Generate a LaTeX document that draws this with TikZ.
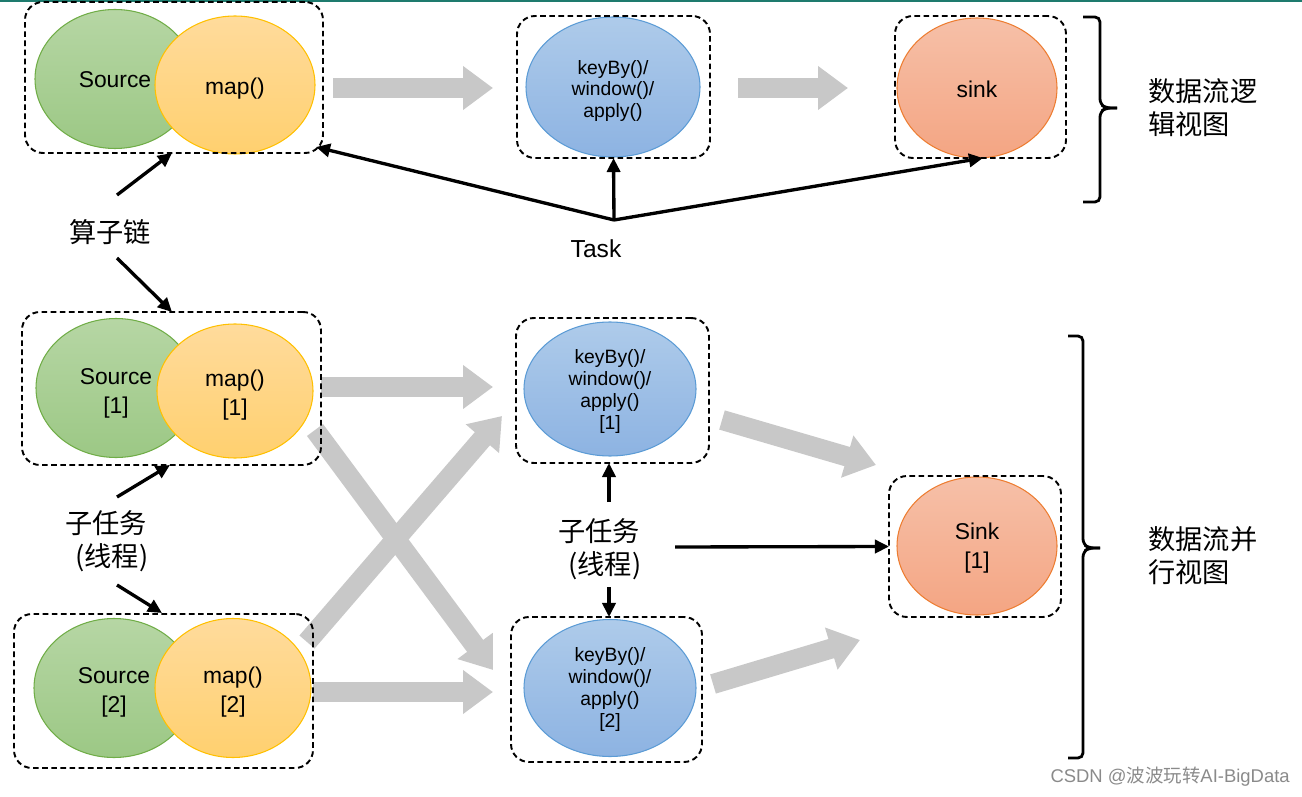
\documentclass[tikz,border=0pt]{standalone}
\usepackage{fontspec}
\setmainfont{Liberation Sans}
\newfontfamily\cjk{Noto Sans CJK SC}
\usetikzlibrary{shapes.geometric,arrows.meta,calc}
\definecolor{gA}{HTML}{B6D6A4}
\definecolor{gB}{HTML}{9CC885}
\definecolor{gE}{HTML}{70AD47}
\definecolor{oA}{HTML}{FFDB9C}
\definecolor{oB}{HTML}{FFD06F}
\definecolor{oE}{HTML}{FFC000}
\definecolor{bA}{HTML}{AECBEA}
\definecolor{bB}{HTML}{8DB3E2}
\definecolor{bE}{HTML}{5B9BD5}
\definecolor{sA}{HTML}{F6C0A8}
\definecolor{sB}{HTML}{F4A583}
\definecolor{sE}{HTML}{ED7D31}
\definecolor{garr}{HTML}{C8C8C8}
\definecolor{topline}{HTML}{1E7B6E}
\definecolor{wmark}{HTML}{8A8A8A}
\tikzset{
  wh/.style 2 args={minimum width=#1*0.02cm, minimum height=#2*0.02cm},
  dbox/.style={draw, dash pattern=on 3.2pt off 2pt, line width=1.1pt, rounded corners=0.36cm, inner sep=0pt, outer sep=0pt},
  ell/.style={ellipse, draw, line width=0.6pt, inner sep=0pt},
  src/.style={ell, draw=gE, top color=gA, bottom color=gB},
  mapn/.style={ell, draw=oE, top color=oA, bottom color=oB},
  kbw/.style={ell, draw=bE, top color=bA, bottom color=bB},
  snk/.style={ell, draw=sE, top color=sA, bottom color=sB},
  tbig/.style={align=center, inner sep=0pt, font=\fontsize{13}{16.4}\selectfont},
  tsmall/.style={align=center, inner sep=0pt, font=\fontsize{11}{12.5}\selectfont},
  blk/.style={line width=1.9pt, -{Triangle[length=8pt,width=7.5pt]}},
  garrow/.style={draw=garr, line width=0.4cm, -{Triangle[length=0.6cm,width=0.84cm]}},
  brc/.style={line width=1.6pt, rounded corners=0.1cm},
  cjklab/.style={font=\cjk\fontsize{15.5}{18.7}\selectfont, align=left, inner sep=0pt},
}
\begin{document}
\begin{tikzpicture}[x=0.02cm,y=-0.02cm]
\useasboundingbox (0,0) rectangle (1302,797);
\fill[topline] (0,0) rectangle (1302,2.5);

% grey block arrows (free ends)
\coordinate (a1s) at (333,88);  \coordinate (a1e) at (493,88);
\coordinate (a2s) at (738,88);  \coordinate (a2e) at (848,88);
\coordinate (g1s) at (321,387); \coordinate (g1e) at (493,387);
\coordinate (g2s) at (307,642); \coordinate (g2e) at (502,416);
\coordinate (g3s) at (315,430); \coordinate (g3e) at (493,670);
\coordinate (g4s) at (313,692); \coordinate (g4e) at (493,692);
\coordinate (g5s) at (722,420); \coordinate (g5e) at (876,465);
\coordinate (g6s) at (713,684); \coordinate (g6e) at (860,640);
\foreach \s/\e in {a1s/a1e,a2s/a2e,g1s/g1e,g2s/g2e,g3s/g3e,g4s/g4e,g5s/g5e,g6s/g6e}
  \draw[garrow] (\s) -- (\e);

% top row (logical view)
\node[src, wh={160}{139}] (src0) at (115,79) {};
\node[tbig] at (115,80) {Source};
\node[mapn, wh={160}{138}] (map0) at (235,85) {};
\node[tbig] at (235,89) {map()};
\node[dbox, wh={298}{151}] (b1) at (174,77.5) {};
\node[kbw, wh={174}{140}] (kb0) at (613,87) {};
\node[tsmall] at (613,91) {keyBy()/\\window()/\\apply()};
\node[dbox, wh={193}{142}] (b2) at (613.5,87) {};
\node[snk, wh={160}{140}] (sink0) at (977,88) {};
\node[tbig] at (977,89) {sink};
\node[dbox, wh={171}{142}] (b3) at (980.5,87) {};

% bottom (parallel view)
\node[src, wh={160}{139}] (src1) at (116,388) {};
\node[tbig] at (116,393) {Source\\{[1]}};
\node[mapn, wh={156}{134}] (map1) at (235,391) {};
\node[tbig] at (235,395) {map()\\{[1]}};
\node[dbox, wh={299}{153}] (b4) at (171.5,388.5) {};
\node[src, wh={160}{139}] (src2) at (114,688) {};
\node[tbig] at (114,692) {Source\\{[2]}};
\node[mapn, wh={156}{139}] (map2) at (233,688) {};
\node[tbig] at (233,692) {map()\\{[2]}};
\node[dbox, wh={299}{154}] (b5) at (163.5,691) {};
\node[kbw, wh={172}{134}] (kb1) at (610,389) {};
\node[tsmall] at (610,391.5) {keyBy()/\\window()/\\apply()\\{[1]}};
\node[dbox, wh={193}{145}] (b6) at (612.5,390.5) {};
\node[kbw, wh={172}{137}] (kb2) at (610,688) {};
\node[tsmall] at (610,689.5) {keyBy()/\\window()/\\apply()\\{[2]}};
\node[dbox, wh={191}{145}] (b7) at (606.5,689.5) {};
\node[snk, wh={160}{138}] (sink1) at (977,546) {};
\node[tbig] at (977,548) {Sink\\{[1]}};
\node[dbox, wh={172}{141}] (b8) at (975,546.5) {};

% labels
\node[font=\fontsize{14}{16}\selectfont, inner sep=0pt] (task) at (596,249) {Task};
\node[cjklab] (chain) at (110,232) {算子链};
\node[cjklab, anchor=west] (sub1) at (65,541) {子任务\\\hspace*{0.2cm}(线程)};
\node[cjklab, anchor=west] (sub2) at (558,549) {子任务\\\hspace*{0.2cm}(线程)};
\node[cjklab, anchor=west] (lv) at (1148,108) {数据流逻\\辑视图};
\node[cjklab, anchor=west] (pv) at (1148,556) {数据流并\\行视图};
\node[anchor=east, text=wmark, font=\fontsize{10.5}{12}\selectfont, inner sep=0pt] (wm) at (1290,777) {CSDN @{\cjk 波波玩转}AI-BigData};

% Task connectors
\coordinate (hub) at (614,220);
\coordinate (tk1) at (316,147);
\coordinate (tk3) at (983,158);
\draw[blk] (hub) -- (b2.south);
\draw[blk] (hub) -- (tk1);
\draw[blk] (hub) -- (tk3);

% operator-chain connectors
\coordinate (c1s) at (117,195); \coordinate (c1e) at (172,153);
\coordinate (c2s) at (117,258); \coordinate (c2e) at (172,312);
\draw[blk] (c1s) -- (c1e);
\draw[blk] (c2s) -- (c2e);

% subtask connectors (left)
\coordinate (s1s) at (117,497); \coordinate (s1e) at (170,465);
\coordinate (s2s) at (117,585); \coordinate (s2e) at (162,613);
\draw[blk] (s1s) -- (s1e);
\draw[blk] (s2s) -- (s2e);

% subtask connectors (middle)
\coordinate (m1s) at (609,502); \coordinate (m1e) at (609,463);
\coordinate (m2s) at (609,587); \coordinate (m2e) at (609,617);
\coordinate (m3s) at (675,547);
\draw[blk] (m1s) -- (m1e);
\draw[blk] (m2s) -- (m2e);
\draw[blk] (m3s) -- (b8.west);

% braces
\draw[brc] (1083,17) -- (1100,17) -- (1100,104) -- (1106,108) -- (1117,108);
\draw[brc] (1117,108) -- (1106,108) -- (1100,112) -- (1100,202) -- (1083,202);
\draw[brc] (1068,336) -- (1083,336) -- (1083,544) -- (1089,548) -- (1100,548);
\draw[brc] (1100,548) -- (1089,548) -- (1083,552) -- (1083,758) -- (1068,758);
\end{tikzpicture}
\end{document}
